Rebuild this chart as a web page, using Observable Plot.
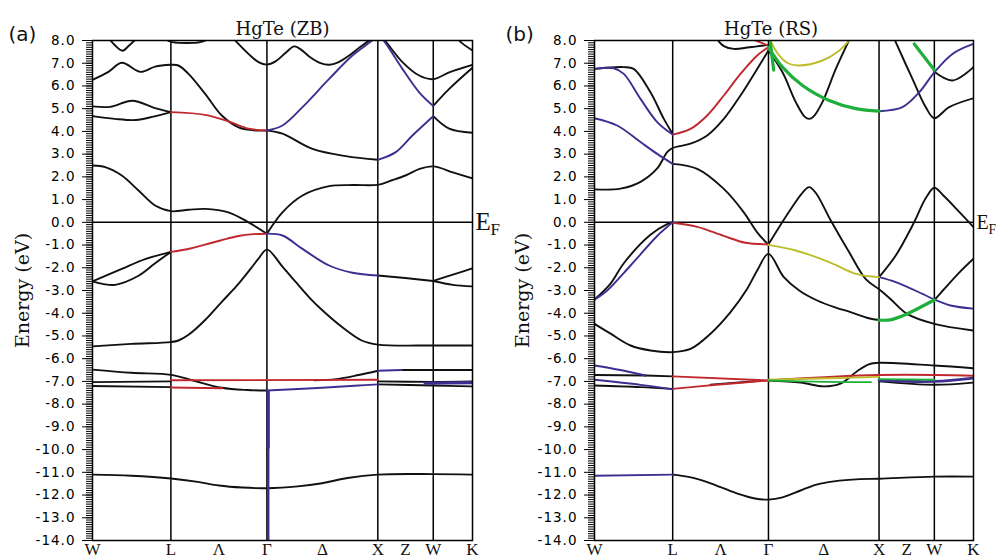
<!DOCTYPE html>
<html><head><meta charset="utf-8">
<script src="https://cdn.jsdelivr.net/npm/d3@7"></script>
<script src="https://cdn.jsdelivr.net/npm/@observablehq/plot@0.6"></script>
<style>
body{margin:0;background:#fff}
#row{display:flex;width:1000px;height:558px;overflow:hidden}
#row svg{flex:none}
</style>
</head><body><div id="row"></div>
<script>
// high-symmetry points along W-L-Γ-X-W-K (path length in 2π/a)
const kSym = [0, 0.707, 1.573, 2.573, 3.073, 3.427];
const kLabels = ["W","L","Λ","Γ","Δ","X","Z","W","K"];
const kLabelPos = [0, 0.707, 1.14, 1.573, 2.073, 2.573, 2.823, 3.073, 3.427];
const yTicks = d3.range(-14, 8.01, 1);
const yMinor = d3.range(-140, 81).map(i => i / 10);

const colBlack = "#111", colRed = "#c0282d", colBlue = "#3d2f91", colGreen = "#1fae3c", colYellow = "#bdbd2a";

// ---------- HgTe (ZB) bands: [k, E(eV)] ----------
const zbBlack = [
 [[0,-11.1],[0.35,-11.15],[0.707,-11.27],[0.95,-11.42],[1.14,-11.58],[1.35,-11.67],[1.573,-11.7],[1.85,-11.62],[2.07,-11.48],[2.3,-11.25],[2.573,-11.1],[3.073,-11.08],[3.427,-11.1]],
 [[0,-6.48],[0.35,-6.62],[0.707,-6.71],[0.9,-6.95],[1.166,-7.28],[1.4,-7.38],[1.573,-7.4]],
 [[2.573,-7.13],[3.073,-7.18],[3.427,-7.22]],
 [[0,-7.03],[0.707,-7.0]],
 [[0,-7.2],[0.707,-7.25]],
 [[2.0,-6.95],[2.2,-6.9],[2.4,-6.72],[2.573,-6.53]],
 [[2.79,-6.5],[3.073,-6.5],[3.427,-6.5]],
 [[2.573,-7.0],[3.073,-7.02],[3.427,-7.0]],
 [[0,-5.46],[0.35,-5.35],[0.707,-5.27],[0.775,-5.2],[0.866,-4.95],[1.016,-4.3],[1.166,-3.5],[1.30,-2.8],[1.425,-2.05],[1.497,-1.6],[1.573,-1.2],[1.713,-1.95],[1.828,-2.6],[1.954,-3.3],[2.068,-3.85],[2.248,-4.6],[2.428,-5.2],[2.573,-5.38],[3.073,-5.42],[3.427,-5.42]],
 [[0,-2.6],[0.264,-2.05],[0.475,-1.62],[0.707,-1.3]],
 [[0,-2.6],[0.1,-2.72],[0.205,-2.75],[0.415,-2.35],[0.565,-1.8],[0.707,-1.3]],
 [[2.573,-2.34],[2.82,-2.45],[3.073,-2.58]],
 [[3.073,-2.58],[3.25,-2.3],[3.427,-2.03]],
 [[3.073,-2.58],[3.25,-2.75],[3.427,-2.82]],
 [[1.573,-0.5],[1.713,0.44],[1.894,1.18],[2.134,1.59],[2.35,1.64],[2.573,1.65],[2.7,1.85],[2.822,2.06],[2.95,2.35],[3.073,2.46],[3.25,2.2],[3.427,1.93]],
 [[1.573,-0.5],[1.407,0],[1.226,0.44],[1.016,0.59],[0.866,0.55],[0.707,0.49],[0.565,0.74],[0.415,1.4],[0.264,2.06],[0.115,2.43],[0,2.5]],
 [[1.573,4.04],[1.713,3.9],[1.984,3.23],[2.284,2.91],[2.573,2.75]],
 [[3.073,4.67],[3.217,4.12],[3.427,3.94]],
 [[0.707,6.93],[0.775,6.9],[0.866,6.53],[1.016,5.65],[1.166,4.7],[1.317,4.18],[1.45,4.05],[1.573,4.04]],
 [[0,6.27],[0.144,6.62],[0.264,7.02],[0.433,6.62],[0.565,6.85],[0.707,6.93]],
 [[0,5.1],[0.16,5.08],[0.36,5.35],[0.55,5.05],[0.707,4.85]],
 [[0,4.67],[0.2,4.55],[0.39,4.5],[0.55,4.65],[0.707,4.85]],
 [[1.25,8.2],[1.301,7.93],[1.407,7.41],[1.497,7.05],[1.573,6.94],[1.65,7.08],[1.74,7.45],[1.819,7.74],[1.88,7.6],[1.954,7.3],[2.05,7.02],[2.134,6.93],[2.22,7.05],[2.315,7.34],[2.41,7.7],[2.495,8.0],[2.53,8.15]],
 [[0.14,8.15],[0.2,7.8],[0.27,7.55],[0.33,7.78],[0.4,8.1]],
 [[0.658,8.05],[0.721,7.93],[0.974,7.93],[1.037,8.05]],
 [[2.615,8.1],[2.645,7.95],[2.795,7.05],[2.946,6.46],[3.073,6.3],[3.217,6.6],[3.427,6.93]],
 [[3.073,5.12],[3.217,5.87],[3.427,6.8]],
 [[3.3,8.05],[3.321,7.93],[3.427,7.56]]
];
const zbRed = [
 [[0.707,-6.95],[2.573,-6.93]],
 [[0.707,-7.27],[1.17,-7.3]],
 [[0.707,-1.3],[0.884,-1.15],[1.016,-0.98],[1.154,-0.8],[1.317,-0.6],[1.45,-0.52],[1.573,-0.5]],
 [[0.707,4.85],[1.016,4.73],[1.226,4.44],[1.407,4.12],[1.573,4.04]]
];
const zbBlue = [
 [[1.573,-7.4],[2.07,-7.28],[2.4,-7.18],[2.573,-7.13]],
 [[2.573,-6.53],[2.79,-6.5]],
 [[1.573,-0.5],[1.713,-0.58],[1.894,-1.17],[2.134,-1.9],[2.344,-2.22],[2.573,-2.34]],
 [[1.573,4.04],[1.713,4.26],[1.894,5.07],[2.134,6.31],[2.344,7.34],[2.54,8.07],[2.573,8.25]],
 [[2.573,2.75],[2.735,3.09],[2.885,3.82],[3.073,4.67]],
 [[2.573,8.25],[2.615,8.07],[2.795,6.75],[2.946,5.72],[3.073,5.12]]
];
const zbBlueThick = [
 [[3.0,-7.08],[3.427,-7.05]],
 [[1.585,-7.45],[1.585,-9.9]]
];
const zbBlueSpike = [[[1.585,-9.9],[1.585,-14]]];

// ---------- HgTe (RS) bands ----------
const rsBlack = [
 [[0.707,-11.1],[0.85,-11.2],[1.0,-11.4],[1.14,-11.65],[1.3,-11.95],[1.45,-12.15],[1.573,-12.2],[1.7,-12.1],[1.863,-11.8],[2.0,-11.55],[2.164,-11.4],[2.4,-11.3],[2.573,-11.28],[3.073,-11.19],[3.427,-11.19]],
 [[0.461,-6.74],[0.707,-6.78]],
 [[0,-6.72],[0.461,-6.74]],
 [[0,-7.18],[0.416,-7.25],[0.707,-7.33]],
 [[1.05,-7.14],[1.45,-6.99]],
 [[1.573,-6.96],[1.863,-7.05],[2.073,-7.22],[2.224,-7.1],[2.375,-6.55],[2.48,-6.25],[2.573,-6.18],[3.073,-6.3],[3.427,-6.42]],
 [[2.573,-7.0],[3.073,-7.15],[3.427,-7.05]],
 [[0,-4.47],[0.145,-4.9],[0.326,-5.42],[0.506,-5.64],[0.707,-5.71],[0.868,-5.57],[1.049,-4.9],[1.23,-3.95],[1.381,-2.92],[1.471,-2.12],[1.573,-1.39],[1.71,-2.4],[1.851,-3.0],[2.014,-3.44],[2.182,-3.75],[2.315,-3.95],[2.48,-4.22],[2.573,-4.3]],
 [[1.573,-0.97],[1.75,0.4],[1.88,1.3],[1.941,1.55],[2.0,1.3],[2.134,0.1],[2.303,-1.32],[2.453,-2.5],[2.573,-2.95],[2.676,-3.37],[2.827,-4.03],[3.073,-4.47],[3.427,-4.76]],
 [[2.573,-2.41],[2.724,-1.46],[2.875,-0.14],[3.0,1.1],[3.073,1.52],[3.15,1.2],[3.3,0.45],[3.427,-0.21]],
 [[3.073,-3.42],[3.15,-3.0],[3.3,-2.2],[3.427,-1.6]],
 [[0.707,2.57],[0.929,2.35],[1.169,1.47],[1.35,0.44],[1.471,-0.44],[1.573,-0.99]],
 [[0,-3.4],[0.145,-2.7],[0.265,-1.8],[0.506,-0.55],[0.657,-0.08],[0.707,0]],
 [[0,1.45],[0.235,1.48],[0.416,1.78],[0.567,2.37],[0.657,3.09],[0.707,3.27],[0.868,3.46],[1.019,3.82],[1.169,4.55],[1.32,5.58],[1.471,6.75],[1.573,7.56]],
 [[0,6.75],[0.265,6.83],[0.355,6.75],[0.506,5.72],[0.627,4.55],[0.707,3.89]],
 [[1.109,8.05],[1.17,7.75],[1.26,7.63],[1.4,7.7],[1.573,7.81]],
 [[1.573,7.56],[1.7,6.6],[1.82,5.29],[1.9,4.65],[1.941,4.55],[1.98,4.65],[2.061,5.29],[2.182,6.75],[2.308,8.07]],
 [[2.7,8.2],[2.724,7.93],[2.875,6.31],[2.995,5.07],[3.073,4.58],[3.207,5.07],[3.427,5.46]],
 [[3.073,6.62],[3.237,6.24],[3.427,6.83]]
];
const rsRed = [
 [[0.707,-6.78],[1.573,-6.96]],
 [[0.707,-7.33],[1.1,-7.15],[1.573,-6.96]],
 [[1.573,-6.96],[2.573,-6.72],[3.427,-6.75]],
 [[0.707,-0.02],[0.929,-0.2],[1.169,-0.6],[1.365,-0.9],[1.573,-0.97]],
 [[0.707,3.86],[0.868,4.11],[1.019,4.7],[1.169,5.58],[1.32,6.53],[1.471,7.34],[1.573,7.71]],
 [[1.44,8.03],[1.56,7.8]]
];
const rsBlue = [
 [[0,-11.15],[0.707,-11.1]],
 [[0,-6.3],[0.235,-6.5],[0.461,-6.74]],
 [[0,-6.93],[0.416,-7.15],[0.707,-7.35]],
 [[2.573,-2.41],[2.724,-2.63],[2.966,-3.15],[3.073,-3.4],[3.219,-3.66],[3.427,-3.8]],
 [[0,-3.4],[0.115,-3.0],[0.326,-1.9],[0.567,-0.6],[0.707,0]],
 [[0,4.58],[0.205,4.26],[0.416,3.53],[0.567,3.01],[0.707,2.57]],
 [[0,6.75],[0.175,6.78],[0.265,6.53],[0.416,5.43],[0.567,4.41],[0.707,3.86]],
 [[2.573,4.89],[2.785,5.07],[2.936,5.72],[3.073,6.6],[3.237,7.41],[3.427,7.85]]
];
const rsBlueThick = [[[2.573,-6.95],[3.073,-7.0],[3.427,-6.85]]];
const rsGreen = [
 [[1.573,-6.96],[2.1,-7.02],[2.5,-7.03]],
 [[2.573,-6.9],[3.073,-6.93]]
];
const rsGreenThick = [
 [[2.573,-4.3],[2.676,-4.29],[2.827,-4.03],[2.977,-3.66],[3.073,-3.42]],
 [[1.573,7.7],[1.7,6.83],[1.881,6.02],[2.122,5.36],[2.363,5.0],[2.573,4.89]],
 [[1.59,7.9],[1.62,6.7]],
 [[2.891,7.85],[3.073,6.7]]
];
const rsYellow = [
 [[1.573,-0.99],[1.82,-1.24],[2.122,-1.75],[2.363,-2.27],[2.573,-2.41]],
 [[1.573,-6.93],[2.2,-6.85],[2.573,-6.8]],
 [[1.59,8.0],[1.66,7.4],[1.75,7.0],[1.851,6.9],[2.061,7.12],[2.2,7.5],[2.303,8.0]]
];

const toRows = bands => bands.flatMap((pts, i) => pts.map(([k, E]) => ({k, E, id: i})));
const bandLine = (bands, color, w, curve = "catmull-rom") =>
  Plot.line(toRows(bands), {x: "k", y: "E", z: "id", stroke: color, strokeWidth: w, curve, clip: true});

function panel({layers, title, tag, left, right, titleDx, tagDx, ylabDx, efSize}) {
  const svg = Plot.plot({
    width: 500, height: 558,
    marginTop: 40, marginBottom: 18, marginLeft: left, marginRight: right,
    x: {domain: [0, 3.427], axis: null},
    y: {domain: [-14, 8]},
    style: {background: "white", overflow: "visible"},
    marks: [
      Plot.axisY(yMinor, {tickSize: 6, tickFormat: () => "", label: null, strokeWidth: 1}),
      Plot.axisY(yTicks, {tickSize: 10, tickPadding: 7, tickFormat: d => d.toFixed(1), label: null,
        fontSize: 13.5, fontFamily: "DejaVu Sans", fill: "#000", strokeWidth: 1}),
      Plot.ruleX(kSym.slice(1, 5), {stroke: "#000", strokeWidth: 1.5}),
      Plot.ruleY([0], {stroke: "#000", strokeWidth: 1.5}),
      ...layers,
      Plot.frame({stroke: "#000", strokeWidth: 1.5}),
      Plot.text(kLabelPos, {x: d => d, text: (d, i) => kLabels[i], frameAnchor: "bottom", lineAnchor: "top",
        dy: 2, fontSize: 17, fontFamily: "Liberation Serif", fill: "#111"}),
      Plot.text([title], {frameAnchor: "top", textAnchor: "middle", dx: titleDx, dy: -18, fontSize: 18, fontFamily: "DejaVu Serif", fill: "#111"}),
      Plot.text([tag], {frameAnchor: "top-left", textAnchor: "start", dx: tagDx, dy: -14, fontSize: 20, fontFamily: "DejaVu Sans", fill: "#111"}),
      Plot.text(["Energy (eV)"], {frameAnchor: "left", textAnchor: "middle", dx: ylabDx, rotate: -90, fontSize: 19, fontFamily: "DejaVu Serif", fill: "#111"}),
      Plot.text([{k: 3.427, E: 0}], {x: "k", y: "E", text: () => "E", dx: 3, textAnchor: "start", fontSize: efSize, fontFamily: "Liberation Serif", fill: "#111"}),
      Plot.text([{k: 3.427, E: 0}], {x: "k", y: "E", text: () => "F", dx: 3 + efSize * 0.6, dy: 7, textAnchor: "start", fontSize: efSize * 0.68, fontFamily: "Liberation Serif", fill: "#111"})
    ]
  });
  svg.querySelectorAll('g[aria-label="y-axis tick label"]').forEach(g => g.setAttribute("letter-spacing", "1"));
  return svg;
}

const row = document.getElementById("row");
row.append(panel({
  title: "HgTe (ZB)", tag: "(a)", left: 92, right: 28, titleDx: 0, tagDx: -84, ylabDx: -70, efSize: 25,
  layers: [
    bandLine(zbBlack, colBlack, 1.9),
    bandLine(zbRed, colRed, 1.9),
    bandLine(zbBlue, colBlue, 1.9),
    bandLine(zbBlueThick, colBlue, 3.2, "linear"),
    bandLine(zbBlueSpike, colBlue, 2.4, "linear")
  ]
}));
row.append(panel({
  title: "HgTe (RS)", tag: "(b)", left: 94, right: 27, titleDx: -13, tagDx: -89, ylabDx: -72, efSize: 20,
  layers: [
    bandLine(rsBlack, colBlack, 1.9),
    bandLine(rsRed, colRed, 1.9),
    bandLine(rsBlue, colBlue, 1.9),
    bandLine(rsBlueThick, colBlue, 2.8),
    bandLine(rsYellow, colYellow, 1.9),
    bandLine(rsGreen, colGreen, 1.9),
    bandLine(rsGreenThick, colGreen, 3.2)
  ]
}));
</script>
</body></html>
